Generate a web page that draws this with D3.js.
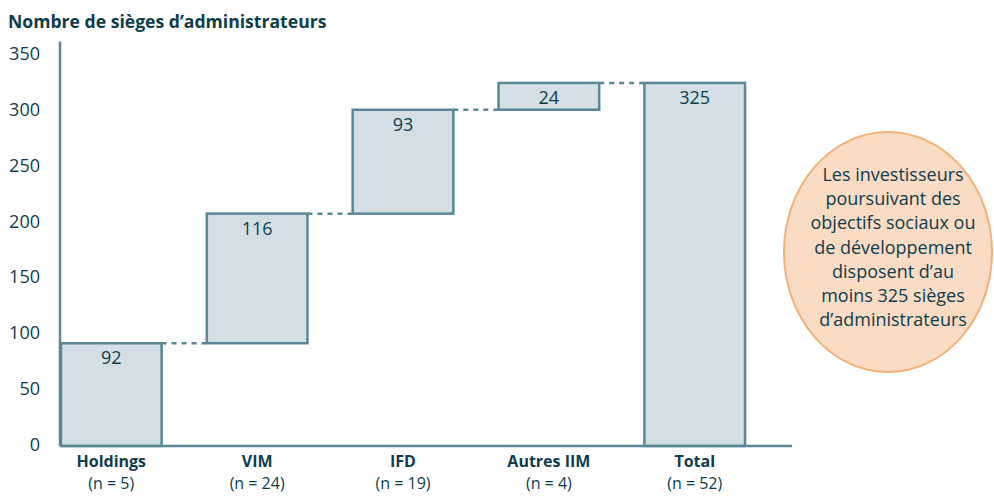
<!doctype html>
<html lang="fr">
<head>
<meta charset="utf-8">
<title>Nombre de sièges d’administrateurs</title>
<script src="https://cdn.jsdelivr.net/npm/d3@7"></script>
<style>
  body { margin: 0; background: #fff; }
  svg { display: block; font-family: "Open Sans", sans-serif; }
</style>
</head>
<body>
<script>
// data
var categories = ["Holdings", "VIM", "IFD", "Autres IIM", "Total"];
var counts = [5, 24, 19, 4, 52];
var values = [92, 116, 93, 24, 325];
var isTotal = [false, false, false, false, true];
var yTicks = [0, 50, 100, 150, 200, 250, 300, 350];
var noteLines = ["Les investisseurs", "poursuivant des", "objectifs sociaux ou",
                 "de développement", "disposent d’au", "moins 325 sièges",
                 "d’administrateurs"];

var width = 994, height = 497;
var ink = "#0e3d4c", axisCol = "#5a8896", barFill = "#d3dfe5";
var fontFam = "'Open Sans', sans-serif";

var svg = d3.select("body").append("svg")
    .attr("width", width)
    .attr("height", height);

// waterfall bases
var rows = [];
var run = 0;
categories.forEach(function(c, i) {
    var start = isTotal[i] ? 0 : run;
    var end = isTotal[i] ? values[i] : run + values[i];
    if (!isTotal[i]) run = end;
    rows.push({ name: c, n: counts[i], value: values[i], start: start, end: end });
});

var x = d3.scaleBand()
    .domain(categories)
    .range([42, 764])
    .paddingInner(0.31)
    .paddingOuter(0.13);

var y = d3.scaleLinear()
    .domain([0, 350])
    .range([446, 55]);

// title
svg.append("text")
    .attr("x", 8)
    .attr("y", 28)
    .attr("fill", ink)
    .attr("font-weight", "bold")
    .attr("font-size", 17.6)
    .text("Nombre de sièges d’administrateurs");

// y axis
var yAxis = svg.append("g")
    .attr("transform", "translate(60,0)")
    .call(d3.axisLeft(y).tickValues(yTicks).tickSize(0).tickPadding(20));
yAxis.select(".domain").remove();
yAxis.selectAll("text")
    .attr("fill", ink)
    .attr("font-size", 18)
    .attr("font-family", fontFam)
    .attr("dy", "0.25em");

svg.append("line")
    .attr("x1", 60).attr("x2", 60)
    .attr("y1", y(0)).attr("y2", y(362))
    .attr("stroke", axisCol)
    .attr("stroke-width", 2.5);

// connectors
for (var i = 0; i < rows.length - 1; i++) {
    svg.append("line")
        .attr("x1", x(rows[i].name) + x.bandwidth())
        .attr("x2", x(rows[i + 1].name))
        .attr("y1", y(rows[i].end))
        .attr("y2", y(rows[i].end))
        .attr("stroke", axisCol)
        .attr("stroke-width", 2.5)
        .attr("stroke-dasharray", "5,5");
}

// bars
var bar = svg.selectAll(".bar")
    .data(rows)
    .enter().append("g")
    .attr("class", "bar");

bar.append("rect")
    .attr("x", function(d) { return x(d.name); })
    .attr("y", function(d) { return y(d.end); })
    .attr("width", x.bandwidth())
    .attr("height", function(d) { return y(d.start) - y(d.end); })
    .attr("fill", barFill)
    .attr("stroke", axisCol)
    .attr("stroke-width", 2.5);

bar.append("text")
    .attr("x", function(d) { return x(d.name) + x.bandwidth() / 2; })
    .attr("y", function(d) { return y(d.end) + 21; })
    .attr("text-anchor", "middle")
    .attr("fill", ink)
    .attr("font-size", 18)
    .text(function(d) { return d.value; });

// x axis line
svg.append("line")
    .attr("x1", 60).attr("x2", 792)
    .attr("y1", y(0)).attr("y2", y(0))
    .attr("stroke", axisCol)
    .attr("stroke-width", 2.5);

// category labels: bold name, then count
svg.selectAll(".cat")
    .data(rows)
    .enter().append("text")
    .attr("class", "cat")
    .attr("x", function(d) { return x(d.name) + x.bandwidth() / 2; })
    .attr("y", 467)
    .attr("text-anchor", "middle")
    .attr("fill", ink)
    .attr("font-size", 16)
    .attr("font-weight", "bold")
    .text(function(d) { return d.name; });

svg.selectAll(".cnt")
    .data(rows)
    .enter().append("text")
    .attr("class", "cnt")
    .attr("x", function(d) { return x(d.name) + x.bandwidth() / 2; })
    .attr("y", 489)
    .attr("text-anchor", "middle")
    .attr("fill", ink)
    .attr("font-size", 16)
    .text(function(d) { return "(n = " + d.n + ")"; });

// note bubble
svg.append("ellipse")
    .attr("cx", 888)
    .attr("cy", 252)
    .attr("rx", 104)
    .attr("ry", 120)
    .attr("fill", "#fadbc3")
    .attr("stroke", "#f0b27a")
    .attr("stroke-width", 2);

svg.append("text")
    .attr("text-anchor", "middle")
    .attr("fill", ink)
    .attr("font-size", 18)
    .selectAll("tspan")
    .data(noteLines)
    .enter().append("tspan")
    .attr("x", 893)
    .attr("y", function(d, i) { return 181 + i * 24.2; })
    .text(function(d) { return d; });
</script>
</body>
</html>
